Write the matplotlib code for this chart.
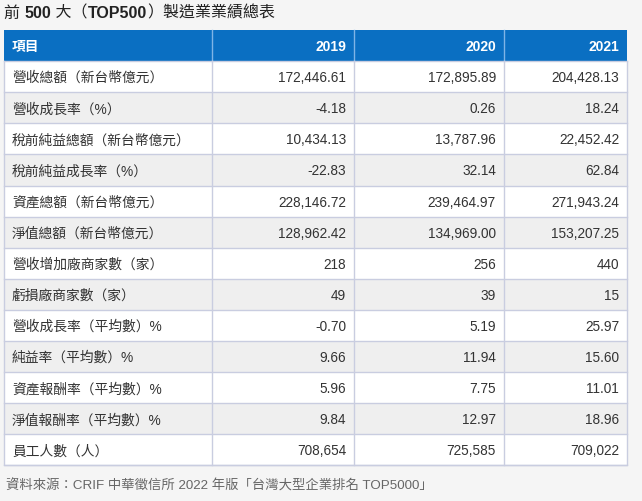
import matplotlib
matplotlib.use("Agg")
import matplotlib.pyplot as plt
from matplotlib.patches import Rectangle

# ---- data ----
title_parts = [("前 ", False), ("500", True), (" 大（", False), ("TOP500", True), ("）製造業業績總表", False)]
header_label = "項目"
years = ["2019", "2020", "2021"]
row_labels = [
    "營收總額（新台幣億元）",
    "營收成長率（%）",
    "稅前純益總額（新台幣億元）",
    "稅前純益成長率（%）",
    "資產總額（新台幣億元）",
    "淨值總額（新台幣億元）",
    "營收增加廠商家數（家）",
    "虧損廠商家數（家）",
    "營收成長率（平均數）%",
    "純益率（平均數）%",
    "資產報酬率（平均數）%",
    "淨值報酬率（平均數）%",
    "員工人數（人）",
]
v2019 = [172446.61, -4.18, 10434.13, -22.83, 228146.72, 128962.42, 218, 49, -0.70, 9.66, 5.96, 9.84, 708654]
v2020 = [172895.89, 0.26, 13787.96, 32.14, 239464.97, 134969.00, 256, 39, 5.19, 11.94, 7.75, 12.97, 725585]
v2021 = [204428.13, 18.24, 22452.42, 62.84, 271943.24, 153207.25, 440, 15, 25.97, 15.60, 11.01, 18.96, 709022]
decimals = [2, 2, 2, 2, 2, 2, 0, 0, 2, 2, 2, 2, 0]
source = "資料來源：CRIF 中華徵信所 2022 年版「台灣大型企業排名 TOP5000」"

FONTS = ["Liberation Sans", "Noto Sans CJK TC", "DejaVu Sans"]
plt.rcParams["font.family"] = FONTS

W, H = 642, 502
fig = plt.figure(figsize=(W / 100, H / 100), dpi=100)
fig.patch.set_facecolor("#f5f5f5")
ax = fig.add_axes([0, 0, 1, 1])
ax.set_xlim(0, W)
ax.set_ylim(H, 0)
ax.axis("off")

# layout
col_x = [4, 212, 354, 504, 627]
top = 31
row_h = 31.1
n_rows = len(row_labels) + 1
bottom = top + row_h * n_rows
grid_c = "#c9cde0"
header_c = "#0a6fc2"
txt_c = "#333333"
fs = 9.9

# header
ax.add_patch(Rectangle((col_x[0], top), col_x[-1] - col_x[0], row_h, facecolor=header_c, edgecolor="none"))
for x in col_x[1:-1]:
    ax.plot([x, x], [top, top + row_h], color="#7fb4e6", lw=1)
ax.text(col_x[0] + 8, top + row_h / 2, header_label, color="white", fontsize=fs, fontweight="bold",
        va="center", ha="left")
for j, y in enumerate(years):
    ax.text(col_x[j + 2] - 8, top + row_h / 2, y, color="white", fontsize=10, fontweight="bold",
            va="center", ha="right")

# body
cols = [v2019, v2020, v2021]
for i, lab in enumerate(row_labels):
    y0 = top + row_h * (i + 1)
    fc = "white" if i % 2 == 0 else "#efefef"
    ax.add_patch(Rectangle((col_x[0], y0), col_x[-1] - col_x[0], row_h, facecolor=fc, edgecolor="none"))
    ax.plot([col_x[0], col_x[-1]], [y0, y0], color=grid_c, lw=1)
    ax.text(col_x[0] + 8, y0 + row_h / 2 + 0.5, lab, color=txt_c, fontsize=fs, va="center", ha="left")
    for j, vals in enumerate(cols):
        s = f"{vals[i]:,.{decimals[i]}f}"
        ax.text(col_x[j + 2] - 8, y0 + row_h / 2 + 0.5, s, color=txt_c, fontsize=9.8,
                va="center", ha="right")

for x in col_x[1:-1]:
    ax.plot([x, x], [top + row_h, bottom], color=grid_c, lw=1)
ax.plot([col_x[0], col_x[0], col_x[-1], col_x[-1]], [top + row_h, bottom, bottom, top + row_h], color=grid_c, lw=1)
ax.plot([col_x[0], col_x[-1]], [bottom, bottom], color=grid_c, lw=1)

# title in parts (bold digits)
fig.canvas.draw()
r = fig.canvas.get_renderer()
x = 4
for part, bold in title_parts:
    t = ax.text(x, 13, part, fontsize=11.5, fontweight="bold" if bold else "normal",
                color="#222222", va="center", ha="left")
    bb = t.get_window_extent(renderer=r)
    x += bb.width

ax.text(6, 486, source, fontsize=9.6, color="#666666", va="center", ha="left")

fig.savefig("out.png", dpi=100, facecolor=fig.get_facecolor())
